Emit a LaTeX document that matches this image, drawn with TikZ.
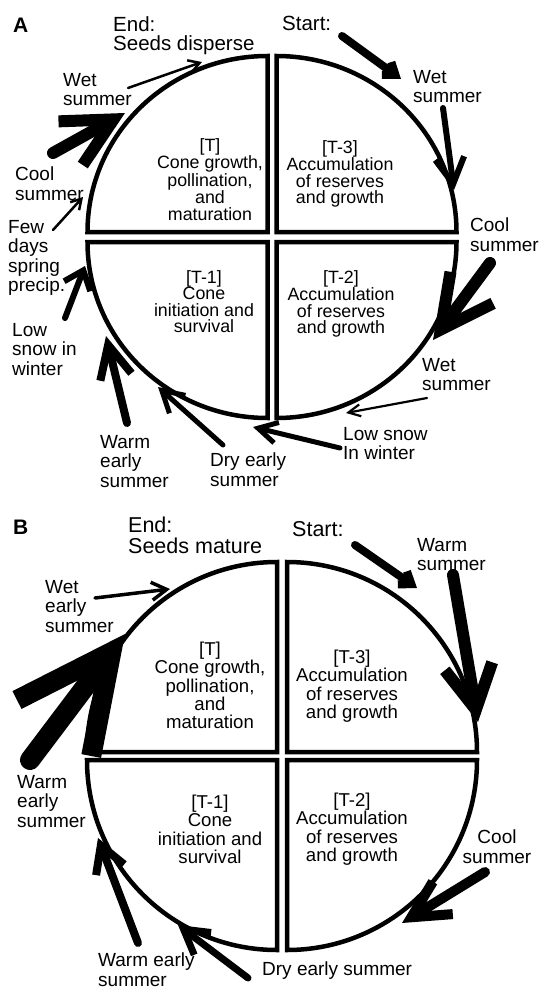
\documentclass[tikz,border=0pt]{standalone}
\usepackage{fontspec}
\setmainfont{Liberation Sans}
\usetikzlibrary{arrows.meta,calc}
\tikzset{
  quad/.style={line width=4.5pt,line join=miter},
  lab/.style={inner sep=0pt,anchor=north west,align=left,font=\fontsize{19}{19.5}\selectfont},
  labc/.style={lab,anchor=north,align=center},
  endlab/.style={lab,font=\fontsize{20.5}{19.5}\selectfont},
  panel/.style={inner sep=0pt,anchor=north west,font=\fontsize{21}{21}\selectfont\bfseries},
  boxA/.style={inner sep=0pt,anchor=north,align=center,font=\fontsize{17.8}{16.5}\selectfont},
  boxB/.style={inner sep=0pt,anchor=north,align=center,font=\fontsize{18.6}{18.3}\selectfont},
  drv/.style={line cap=round}
}
\begin{document}
\begin{tikzpicture}[x=1pt,y=-1pt]
\path[use as bounding box,fill=white] (0,0) rectangle (538,990);

% ---- panel A ----
\def\cx{272}\def\cy{237}\def\gx{4.5}\def\gy{5}\def\rx{180}\def\ry{176}
  \draw[quad] (\cx-\gx,\cy-\gy) -- ++(-\rx,0) arc[start angle=180,end angle=270,x radius=\rx,y radius=\ry] -- cycle;
  \draw[quad] (\cx+\gx,\cy-\gy) -- ++(\rx,0) arc[start angle=0,end angle=-90,x radius=\rx,y radius=\ry] -- cycle;
  \draw[quad] (\cx-\gx,\cy+\gy) -- ++(-\rx,0) arc[start angle=180,end angle=90,x radius=\rx,y radius=\ry] -- cycle;
  \draw[quad] (\cx+\gx,\cy+\gy) -- ++(\rx,0) arc[start angle=0,end angle=90,x radius=\rx,y radius=\ry] -- cycle;

\node[panel] (pA) at (13,18) {A};
\node[endlab] (endA) at (113,16) {End:\\Seeds disperse};
\node[endlab] (startA) at (282,16) {Start:};
\node[boxA] (tA) at (210,138) {[T]\\Cone growth,\\pollination,\\and\\maturation};
\node[boxA] (t3A) at (340,140) {[T-3]\\Accumulation\\of reserves\\and growth};
\node[boxA] (t1A) at (204,270) {[T-1]\\Cone\\initiation and\\survival};
\node[boxA] (t2A) at (341,270) {[T-2]\\Accumulation\\of reserves\\and growth};

\node[lab] (wetA1) at (413,70) {Wet\\summer};
\node[lab] (coolA1) at (470,218) {Cool\\summer};
\node[lab] (wetA2) at (422,358) {Wet\\summer};
\node[lab] (snowA1) at (343,427) {Low snow\\In winter};
\node[lab] (dryA) at (210,453) {Dry early\\summer};
\node[lab] (warmA) at (100,435) {Warm\\early\\summer};
\node[lab] (snowA2) at (12,323) {Low\\snow in\\winter};
\node[lab] (fewA) at (8,220) {Few\\days\\spring\\precip.};
\node[lab] (coolA2) at (15,167) {Cool\\summer};
\node[lab] (wetA3) at (63,73) {Wet\\summer};

\coordinate (a1t) at (342,36);  \coordinate (a1h) at (401,79);
\coordinate (a2t) at (443,108); \coordinate (a2h) at (454,190);
\coordinate (a3t) at (490,263); \coordinate (a3h) at (433,340);
\coordinate (a4t) at (427,398); \coordinate (a4h) at (346,413);
\coordinate (a5t) at (340,448); \coordinate (a5h) at (253,427);
\coordinate (a6t) at (223,445); \coordinate (a6h) at (158,387);
\coordinate (a7t) at (127,423); \coordinate (a7h) at (106,336);
\coordinate (a8t) at (65,318);  \coordinate (a8h) at (85,266);
\coordinate (a9t) at (53,230);  \coordinate (a9h) at (83,197);
\coordinate (a10t) at (53,153); \coordinate (a10h) at (125,113);
\coordinate (a11t) at (128,88); \coordinate (a11h) at (202,62);

 \draw[drv,line width=8pt,-{Straight Barb[length=11pt,width=16pt]}] (a1t) -- (a1h);
 \draw[drv,line width=6pt,-{Straight Barb[length=26pt,width=29pt]}] (a2t) -- (a2h);
 \draw[drv,line width=12pt,-{Straight Barb[length=52pt,width=53pt]}] (a3t) -- (a3h);
 \draw[drv,line width=2.2pt,-{Straight Barb[length=12pt,width=12pt]}] (a4t) -- (a4h);
 \draw[drv,line width=5pt,-{Straight Barb[length=19pt,width=21pt]}] (a5t) -- (a5h);
 \draw[drv,line width=5pt,-{Straight Barb[length=21pt,width=24pt]}] (a6t) -- (a6h);
 \draw[drv,line width=8pt,-{Straight Barb[length=33pt,width=32pt]}] (a7t) -- (a7h);
 \draw[drv,line width=6pt,-{Straight Barb[length=17pt,width=28pt]}] (a8t) -- (a8h);
 \draw[drv,line width=2.5pt,-{Straight Barb[length=10pt,width=12pt]}] (a9t) -- (a9h);
 \draw[drv,line width=12pt,-{Straight Barb[length=49pt,width=50pt]}] (a10t) -- (a10h);
 \draw[drv,line width=2.5pt,-{Straight Barb[length=11pt,width=13pt]}] (a11t) -- (a11h);

% ---- panel B ----
\def\cx{282}\def\cy{756}\def\gx{5}\def\gy{4}\def\rx{190}\def\ry{190}
  \draw[quad] (\cx-\gx,\cy-\gy) -- ++(-\rx,0) arc[start angle=180,end angle=270,x radius=\rx,y radius=\ry] -- cycle;
  \draw[quad] (\cx+\gx,\cy-\gy) -- ++(\rx,0) arc[start angle=0,end angle=-90,x radius=\rx,y radius=\ry] -- cycle;
  \draw[quad] (\cx-\gx,\cy+\gy) -- ++(-\rx,0) arc[start angle=180,end angle=90,x radius=\rx,y radius=\ry] -- cycle;
  \draw[quad] (\cx+\gx,\cy+\gy) -- ++(\rx,0) arc[start angle=0,end angle=90,x radius=\rx,y radius=\ry] -- cycle;

\node[panel] (pB) at (13,520) {B};
\node[endlab,font=\fontsize{21.5}{21}\selectfont] (endB) at (128,517) {End:\\Seeds mature};
\node[endlab,font=\fontsize{21.5}{21}\selectfont] (startB) at (292,521) {Start:};
\node[boxB] (tB) at (210,642) {[T]\\Cone growth,\\pollination,\\and\\maturation};
\node[boxB] (t3B) at (352,650) {[T-3]\\Accumulation\\of reserves\\and growth};
\node[boxB] (t1B) at (210,795) {[T-1]\\Cone\\initiation and\\survival};
\node[boxB] (t2B) at (352,793) {[T-2]\\Accumulation\\of reserves\\and growth};

\node[lab] (warmB1) at (417,538) {Warm\\summer};
\node[lab] (wetB) at (45,580) {Wet\\early\\summer};
\node[lab] (warmB2) at (17,775) {Warm\\early\\summer};
\node[lab] (warmB3) at (98,953) {Warm early\\summer};
\node[lab] (dryB) at (262,962) {Dry early summer};
\node[labc] (coolB) at (497,830) {Cool\\summer};

\coordinate (b1t) at (355,545); \coordinate (b1h) at (417,588);
\coordinate (b2t) at (453,575); \coordinate (b2h) at (478,722);
\coordinate (b3t) at (95,598);  \coordinate (b3h) at (170,589);
\coordinate (b4t) at (30,760);  \coordinate (b4h) at (125,634);
\coordinate (b5t) at (138,943); \coordinate (b5h) at (98,838);
\coordinate (b6t) at (248,978); \coordinate (b6h) at (178,925);
\coordinate (b7t) at (485,872); \coordinate (b7h) at (402,923);

 \draw[drv,line width=8pt,-{Straight Barb[length=11pt,width=16pt]}] (b1t) -- (b1h);
 \draw[drv,line width=12pt,-{Straight Barb[length=44pt,width=48pt]}] (b2t) -- (b2h);
 \draw[drv,line width=3.5pt,-{Straight Barb[length=15pt,width=18pt]}] (b3t) -- (b3h);
 \draw[drv,line width=20pt,-{Straight Barb[length=95pt,width=93pt]}] (b4t) -- (b4h);
 \draw[drv,line width=8pt,-{Straight Barb[length=26pt,width=30pt]}] (b5t) -- (b5h);
 \draw[drv,line width=7pt,-{Straight Barb[length=24pt,width=28pt]}] (b6t) -- (b6h);
 \draw[drv,line width=10pt,-{Straight Barb[length=37pt,width=38pt]}] (b7t) -- (b7h);
\end{tikzpicture}
\end{document}
